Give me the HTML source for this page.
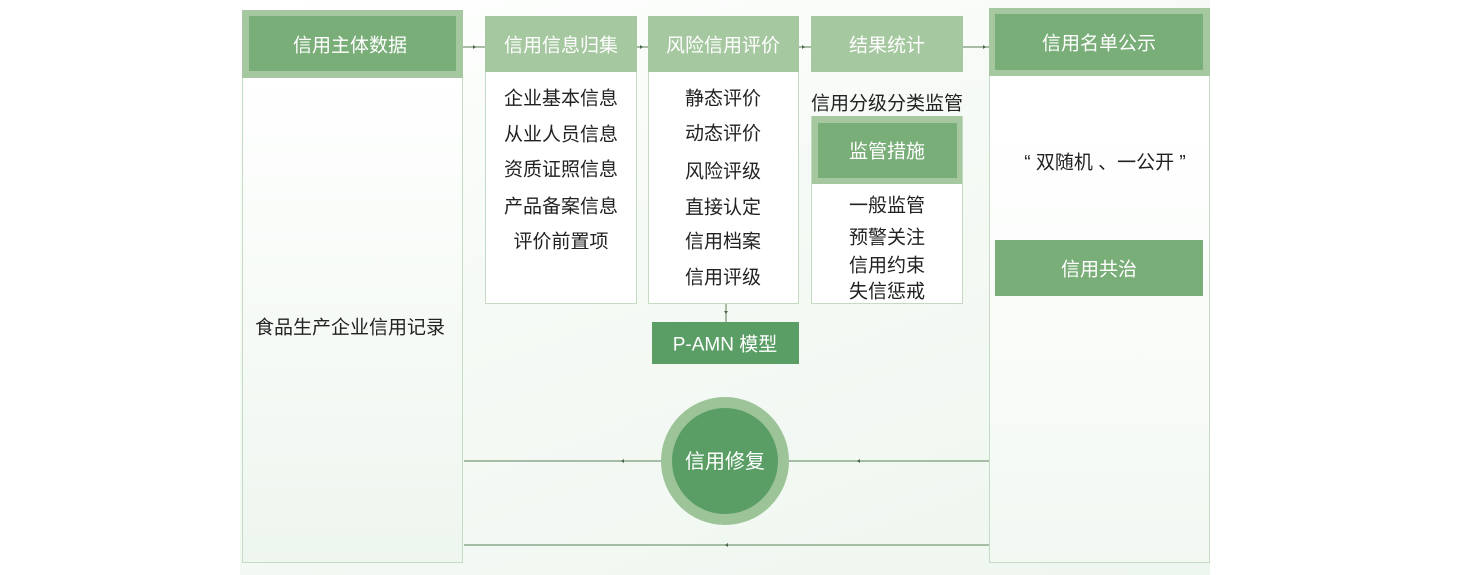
<!DOCTYPE html>
<html><head><meta charset="utf-8"><style>
body{margin:0;width:1480px;height:575px;background:#fff;position:relative;overflow:hidden;font-family:"Liberation Sans","Noto Sans CJK SC",sans-serif;}
.a{position:absolute;box-sizing:border-box;}
.t{position:absolute;transform:translate(-50%,-50%);white-space:nowrap;font-size:19px;color:#222;}
.w{color:#fff;}
</style></head><body>
<div class="a" style="left:240px;top:0;width:1020px;height:575px;background:linear-gradient(160deg,#ffffff 0%,#f6faf6 40%,#eef6ef 100%);"></div>
<div class="a" style="left:1210px;top:0;width:270px;height:575px;background:#fff;"></div>

<div class="a" style="left:242px;top:10px;width:221px;height:553px;border:1.5px solid #c4dcc2;background:linear-gradient(180deg,#fff 10%,#eef6ef 100%);"></div>
<div class="a" style="left:242px;top:10px;width:221px;height:68px;background:#a6c8a0;"></div>
<div class="a" style="left:249px;top:16px;width:207px;height:55px;background:#7aae79;"></div>
<div class="t w" style="left:350px;top:44px;">信用主体数据</div>
<div class="t" style="left:350px;top:326px;">食品生产企业信用记录</div>

<div class="a" style="left:989px;top:8px;width:221px;height:555px;border:1.5px solid #c4dcc2;background:linear-gradient(180deg,#fff 20%,#f3f8f3 100%);"></div>
<div class="a" style="left:989px;top:8px;width:221px;height:68px;background:#a6c8a0;"></div>
<div class="a" style="left:995px;top:14px;width:208px;height:56px;background:#7aae79;"></div>
<div class="t w" style="left:1099px;top:42px;">信用名单公示</div>
<div class="t" style="left:1105px;top:161px;">“ 双随机 、一公开 ”</div>
<div class="a" style="left:995px;top:240px;width:208px;height:56px;background:#7aae79;"></div>
<div class="t w" style="left:1099px;top:268px;">信用共治</div>

<div class="a" style="left:485px;top:16px;width:152px;height:288px;border:1.5px solid #c4dcc2;background:#fff;"></div>
<div class="a" style="left:485px;top:16px;width:152px;height:56px;background:#a6c8a0;"></div>
<div class="t w" style="left:561px;top:44px;">信用信息归集</div>
<div class="t" style="left:561px;top:97px;">企业基本信息</div>
<div class="t" style="left:561px;top:133px;">从业人员信息</div>
<div class="t" style="left:561px;top:168px;">资质证照信息</div>
<div class="t" style="left:561px;top:205px;">产品备案信息</div>
<div class="t" style="left:561px;top:240px;">评价前置项</div>

<div class="a" style="left:648px;top:16px;width:151px;height:288px;border:1.5px solid #c4dcc2;background:#fff;"></div>
<div class="a" style="left:648px;top:16px;width:151px;height:56px;background:#a6c8a0;"></div>
<div class="t w" style="left:723px;top:44px;">风险信用评价</div>
<div class="t" style="left:723px;top:97px;">静态评价</div>
<div class="t" style="left:723px;top:132px;">动态评价</div>
<div class="t" style="left:723px;top:170px;">风险评级</div>
<div class="t" style="left:723px;top:206px;">直接认定</div>
<div class="t" style="left:723px;top:240px;">信用档案</div>
<div class="t" style="left:723px;top:276px;">信用评级</div>

<div class="a" style="left:811px;top:116px;width:152px;height:188px;border:1.5px solid #c4dcc2;background:#fff;"></div>
<div class="a" style="left:811px;top:16px;width:152px;height:56px;background:#a6c8a0;"></div>
<div class="t w" style="left:887px;top:44px;">结果统计</div>
<div class="t" style="left:887px;top:102px;">信用分级分类监管</div>
<div class="a" style="left:812px;top:116px;width:150px;height:68px;background:#a6c8a0;"></div>
<div class="a" style="left:818px;top:123px;width:139px;height:55px;background:#7aae79;"></div>
<div class="t w" style="left:887px;top:150px;">监管措施</div>
<div class="t" style="left:887px;top:204px;">一般监管</div>
<div class="t" style="left:887px;top:236px;">预警关注</div>
<div class="t" style="left:887px;top:264px;">信用约束</div>
<div class="t" style="left:887px;top:290px;">失信惩戒</div>

<div class="a" style="left:652px;top:322px;width:147px;height:42px;background:#5a9e66;"></div>
<div class="t w" style="left:725px;top:343px;">P-AMN 模型</div>

<svg class="a" style="left:0;top:0" width="1480" height="575">
<g stroke="#8ea88c" stroke-width="1.5">
<line x1="463" y1="47" x2="485" y2="47"/>
<line x1="637" y1="47" x2="648" y2="47"/>
<line x1="799" y1="47" x2="811" y2="47"/>
<line x1="963" y1="47" x2="989" y2="47"/>
<line x1="726" y1="304" x2="726" y2="322"/>
<line x1="464" y1="461" x2="989" y2="461"/>
<line x1="464" y1="545" x2="989" y2="545"/>
</g>
<g fill="#4a6a4a">
<polygon points="473,45 473,49 476,47"/>
<polygon points="640,45 640,49 643,47"/>
<polygon points="802,45 802,49 805,47"/>
<polygon points="983,45 983,49 986,47"/>
<polygon points="724,311 728,311 726,314"/>
<polygon points="624,459 624,463 621,461"/>
<polygon points="860,459 860,463 857,461"/>
<polygon points="728,543 728,547 725,545"/>
</g>
<circle cx="725" cy="461" r="64" fill="#9dc498"/>
<circle cx="725" cy="461" r="53" fill="#5a9e66"/>
<text x="725" y="468" text-anchor="middle" font-size="20" fill="#fff" font-family="Liberation Sans, Noto Sans CJK SC, sans-serif">信用修复</text>
</svg>
</body></html>
